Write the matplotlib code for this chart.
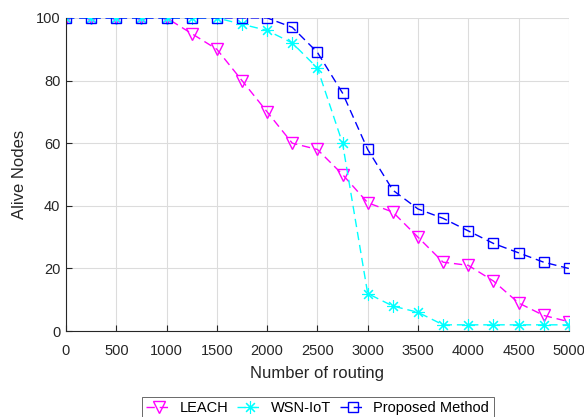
import matplotlib
matplotlib.use("Agg")
import matplotlib.pyplot as plt
import numpy as np

plt.rcParams['font.family'] = ['Liberation Sans', 'DejaVu Sans']

# number of routing rounds
rounds = [0, 250, 500, 750, 1000, 1250, 1500, 1750, 2000, 2250, 2500,
          2750, 3000, 3250, 3500, 3750, 4000, 4250, 4500, 4750, 5000]
leach = [100, 100, 100, 100, 100, 95, 90, 80, 70, 60, 58,
         50, 41, 38, 30, 22, 21, 16, 9, 5, 3]
wsn_iot = [100, 100, 100, 100, 100, 100, 100, 98, 96, 92, 84,
           60, 12, 8, 6, 2, 2, 2, 2, 2, 2]
proposed = [100, 100, 100, 100, 100, 100, 100, 100, 100, 97, 89,
            76, 58, 45, 39, 36, 32, 28, 25, 22, 20]

x_ticks = np.arange(0, 5001, 500)
y_ticks = np.arange(0, 101, 20)

TXT = "#262626"

fig = plt.figure(figsize=(5.84, 4.17), dpi=100)
ax = fig.add_axes([0.113, 0.206, 0.861, 0.751])

dash = (0, (6, 3.5))
ax.plot(rounds, leach, color="#FF00FF", ls=dash, lw=1.0, marker="v",
        ms=9, mfc="none", mec="#FF00FF", mew=1.0, label="LEACH")
ax.plot(rounds, wsn_iot, color="#00FFFF", ls=dash, lw=1.0, marker=(8, 2, 0),
        ms=9, mfc="#00FFFF", mec="#00FFFF", mew=0.8, label="WSN-IoT")
ax.plot(rounds, proposed, color="#0000FF", ls=dash, lw=1.0, marker="s",
        ms=7, mfc="none", mec="#0000FF", mew=1.0, label="Proposed Method")

ax.set_xlim(0, 5000)
ax.set_ylim(0, 100)
ax.set_xticks(x_ticks)
ax.set_yticks(y_ticks)
ax.grid(True, color="#DCDCDC", lw=0.8)
ax.set_axisbelow(True)
for s in ["top", "right"]:
    ax.spines[s].set_visible(False)
for s in ["left", "bottom"]:
    ax.spines[s].set_color(TXT)
    ax.spines[s].set_linewidth(0.8)
ax.tick_params(direction="in", length=4, width=0.8, colors=TXT,
               labelsize=10.5, pad=4)
ax.tick_params(axis="x", pad=9)
ax.set_xlabel("Number of routing", fontsize=12, color=TXT, labelpad=6)
ax.set_ylabel("Alive Nodes", fontsize=12, color=TXT, labelpad=6)

leg = fig.legend(loc="upper center", bbox_to_anchor=(0.544, 0.048), ncol=3,
                 fontsize=10.5, frameon=True, fancybox=False,
                 edgecolor="#262626", handlelength=1.8, columnspacing=0.6,
                 handletextpad=0.5, borderpad=0.3, borderaxespad=0)
leg.get_frame().set_linewidth(0.6)

fig.savefig("out.png", dpi=100)
